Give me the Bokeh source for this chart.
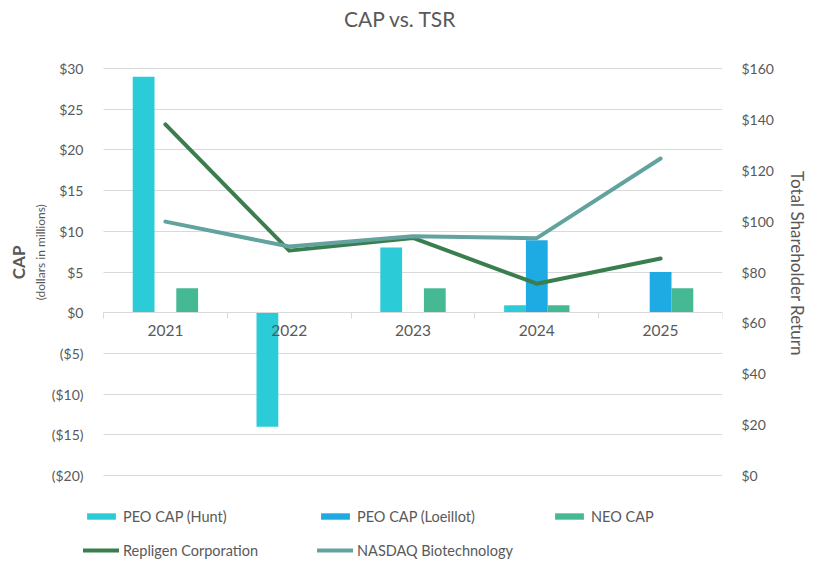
from bokeh.plotting import figure
from bokeh.models import (ColumnDataSource, Range1d, LinearAxis, FixedTicker,
                          CustomJSTickFormatter, Legend, LegendItem, Label, Grid)
from bokeh.transform import dodge
from bokeh.embed import file_html
from bokeh.resources import INLINE

nan = float("nan")
years = ["2021", "2022", "2023", "2024", "2025"]
peo_hunt = [29, -14, 8, 0.9, nan]
peo_loeillot = [nan, nan, nan, 8.9, 5]
neo_cap = [3, nan, 3, 0.9, 3]
repligen = [138, 88.4, 93.4, 75.4, 85.3]
nasdaq = [99.8, 90, 94.1, 93.3, 124.6]
cap_ticks = [-20, -15, -10, -5, 0, 5, 10, 15, 20, 25, 30]
tsr_ticks = [0, 20, 40, 60, 80, 100, 120, 140, 160]

FONT = "Lato"
TXT = "#595959"
GRID = "#D9D9D9"
NB = "\u00a0"

# layout: the frame covers the whole height; the plotted scale (-20..30 over 407px)
# is kept, with room above for the title and below for the legend
PX_CAP = 407 / 50.0
PX_TSR = 407 / 160.0
FRAME_H = 565
TOP_PAD = 68
cap_end = 30 + TOP_PAD / PX_CAP
cap_start = cap_end - FRAME_H / PX_CAP
tsr_end = 160 + TOP_PAD / PX_TSR
tsr_start = tsr_end - FRAME_H / PX_TSR

PLOT_W = 619
CAT_PX = PLOT_W / 5.0

pos = [i + 1 for i in range(len(years))]
src = ColumnDataSource(dict(x=pos, hunt=peo_hunt, loe=peo_loeillot, neo=neo_cap,
                            rep=repligen, nas=nasdaq))

# grid lines can be limited in the cross dimension -> frame may extend left for the legend
EXTRA = 20 if "cross_bounds" in Grid.properties() else 0

p = figure(frame_width=PLOT_W + EXTRA, frame_height=FRAME_H, output_backend="svg",
           toolbar_location=None,
           x_range=Range1d(0.5 - EXTRA / CAT_PX, 5.5), y_range=Range1d(cap_start, cap_end),
           min_border_left=103 - EXTRA, min_border_right=80, min_border_top=0,
           min_border_bottom=0, title_location=None)
p.extra_y_ranges = {"tsr": Range1d(tsr_start, tsr_end)}
p.outline_line_color = None
p.background_fill_color = "white"
p.border_fill_color = "white"

# x axis at zero
xa = p.xaxis[0]
xa.fixed_location = 0
xa.bounds = (0.5, 5.5)
xa.ticker = FixedTicker(ticks=pos, minor_ticks=[0.5 + i for i in range(len(years) + 1)])
xa.major_label_overrides = {pos[i]: years[i] for i in range(len(years))}
xa.major_tick_line_color = None
xa.minor_tick_out = 6
xa.minor_tick_in = 0
xa.minor_tick_line_color = GRID
xa.axis_line_color = GRID
xa.major_label_text_font = FONT
xa.major_label_text_font_size = "15.5px"
xa.major_label_text_color = TXT
xa.major_label_standoff = 6
p.xgrid.visible = False

fmt = CustomJSTickFormatter(code="return tick < 0 ? '($' + Math.abs(tick) + ')' : '$' + tick;")
ya = p.yaxis[0]
ya.ticker = FixedTicker(ticks=cap_ticks)
ya.bounds = (-20, 30)
ya.formatter = fmt
ya.axis_line_color = None
ya.major_tick_line_color = None
ya.minor_tick_line_color = None
ya.major_label_standoff = 14 - EXTRA
ya.major_label_text_font = FONT
ya.major_label_text_font_size = "14px"
ya.major_label_text_color = TXT
ya.axis_label = NB * 20 + "(dollars in millions)"
ya.axis_label_text_font = FONT
ya.axis_label_text_font_size = "12px"
ya.axis_label_text_font_style = "normal"
ya.axis_label_text_color = TXT
ya.axis_label_standoff = 1
g = p.ygrid[0]
g.ticker = FixedTicker(ticks=cap_ticks)
g.grid_line_color = GRID
if EXTRA:
    g.cross_bounds = (0.5, 5.5)

cap_axis = LinearAxis(ticker=FixedTicker(ticks=[]), bounds=(-20, 30),
                      axis_label=NB * 10 + "CAP",
                      axis_line_color=None, major_tick_line_color=None,
                      minor_tick_line_color=None, axis_label_standoff=1,
                      axis_label_text_font=FONT, axis_label_text_font_size="17px",
                      axis_label_text_font_style="bold", axis_label_text_color=TXT)
p.add_layout(cap_axis, "left")

ra = LinearAxis(y_range_name="tsr", ticker=FixedTicker(ticks=tsr_ticks), bounds=(0, 160),
                formatter=CustomJSTickFormatter(code="return '$' + tick;"),
                axis_line_color=None, major_tick_line_color=None, minor_tick_line_color=None,
                major_label_standoff=13, major_label_text_font=FONT,
                major_label_text_font_size="14px", major_label_text_color=TXT,
                axis_label="Total Shareholder Return" + NB * 9, axis_label_standoff=10,
                axis_label_text_font=FONT, axis_label_text_font_size="17px",
                axis_label_text_font_style="normal", axis_label_text_color=TXT)
p.add_layout(ra, "right")

w = 0.176
r1 = p.vbar(x=dodge("x", -w, range=p.x_range), top="hunt", bottom=0, width=w, source=src,
            fill_color="#2BCBD8", line_color=None)
r2 = p.vbar(x=dodge("x", 0, range=p.x_range), top="loe", bottom=0, width=w, source=src,
            fill_color="#1EAAE2", line_color=None)
r3 = p.vbar(x=dodge("x", w, range=p.x_range), top="neo", bottom=0, width=w, source=src,
            fill_color="#44B994", line_color=None)
r4 = p.line(x="x", y="rep", source=src, y_range_name="tsr", line_color="#3B7E4E",
            line_width=4, line_join="round", line_cap="round")
r5 = p.line(x="x", y="nas", source=src, y_range_name="tsr", line_color="#62A39F",
            line_width=4, line_join="round", line_cap="round")

title = Label(x=297 + EXTRA, y=FRAME_H - 18, x_units="screen", y_units="screen",
              text="CAP vs. TSR", text_align="center", text_baseline="middle",
              text_font=FONT, text_font_size="21px", text_color=TXT)
p.add_layout(title, "center")

legend = Legend(items=[LegendItem(label="PEO CAP (Hunt)", renderers=[r1]),
                       LegendItem(label="PEO CAP (Loeillot)", renderers=[r2]),
                       LegendItem(label="NEO CAP", renderers=[r3]),
                       LegendItem(label="Repligen Corporation", renderers=[r4]),
                       LegendItem(label="NASDAQ Biotechnology", renderers=[r5])],
                location=(0, 5), orientation="horizontal", ncols=3,
                glyph_width=36, glyph_height=8, label_standoff=4,
                label_width=180, label_height=20, spacing=14, padding=0, margin=0,
                border_line_color=None, background_fill_alpha=0,
                label_text_font=FONT, label_text_font_size="14.5px", label_text_color=TXT)
p.add_layout(legend, "center")

open("out.html", "w").write(file_html(p, INLINE))
